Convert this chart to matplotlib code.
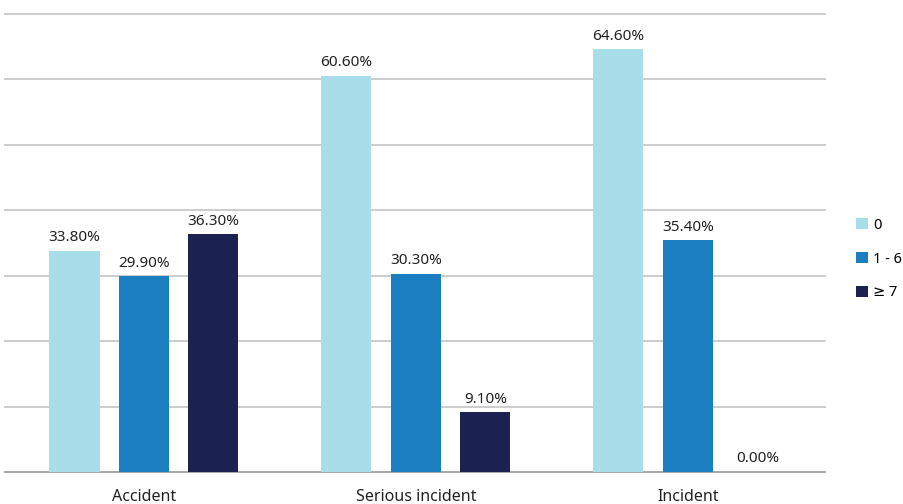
import matplotlib.pyplot as plt
import numpy as np

plt.rcParams['font.family'] = ['Noto Sans', 'DejaVu Sans']

categories = ['Accident', 'Serious incident', 'Incident']
series = ['0', '1 - 6', '≥ 7']
vals_0 = [33.8, 60.6, 64.6]
vals_1_6 = [29.9, 30.3, 35.4]
vals_7 = [36.3, 9.1, 0.0]

colors = ['#A8DDEA', '#1A7EC0', '#1B2150']

fig = plt.figure(figsize=(9.04, 5.04), dpi=100)
ax = fig.add_axes([5 / 904, 32 / 504, 820 / 904, 458 / 504])

x = np.arange(len(categories))
width = 0.184
offset = 0.2555

for i, (name, vals) in enumerate(zip(series, [vals_0, vals_1_6, vals_7])):
    pos = x + (i - 1) * offset
    ax.bar(pos, vals, width, color=colors[i], label=name, zorder=3)
    for px, v in zip(pos, vals):
        ax.annotate(f'{v:.2f}%', (px, v), xytext=(0, 4), textcoords='offset points',
                    ha='center', va='bottom', fontsize=11, color='#222222')

ax.set_xlim(-0.511, 2.504)
ax.set_ylim(0, 70)
ax.set_yticks(np.arange(0, 71, 10))
ax.yaxis.grid(True, color='#cccccc', linewidth=1.4, zorder=0, clip_on=False)
ax.tick_params(axis='y', left=False, labelleft=False)
ax.tick_params(axis='x', length=0, pad=12, labelsize=11.5, labelcolor='#222222')
ax.set_xticks(x)
ax.set_xticklabels(categories)
for s in ['top', 'right', 'left']:
    ax.spines[s].set_visible(False)
ax.spines['bottom'].set_color('#aaaaaa')
ax.spines['bottom'].set_linewidth(1.5)

ax.legend(loc='center left', bbox_to_anchor=(1.031, 0.465), frameon=False,
          fontsize=10.5, handlelength=0.8, handleheight=0.8, labelspacing=1.3,
          handletextpad=0.35, borderaxespad=0.0)

fig.savefig('out.png', dpi=100)
